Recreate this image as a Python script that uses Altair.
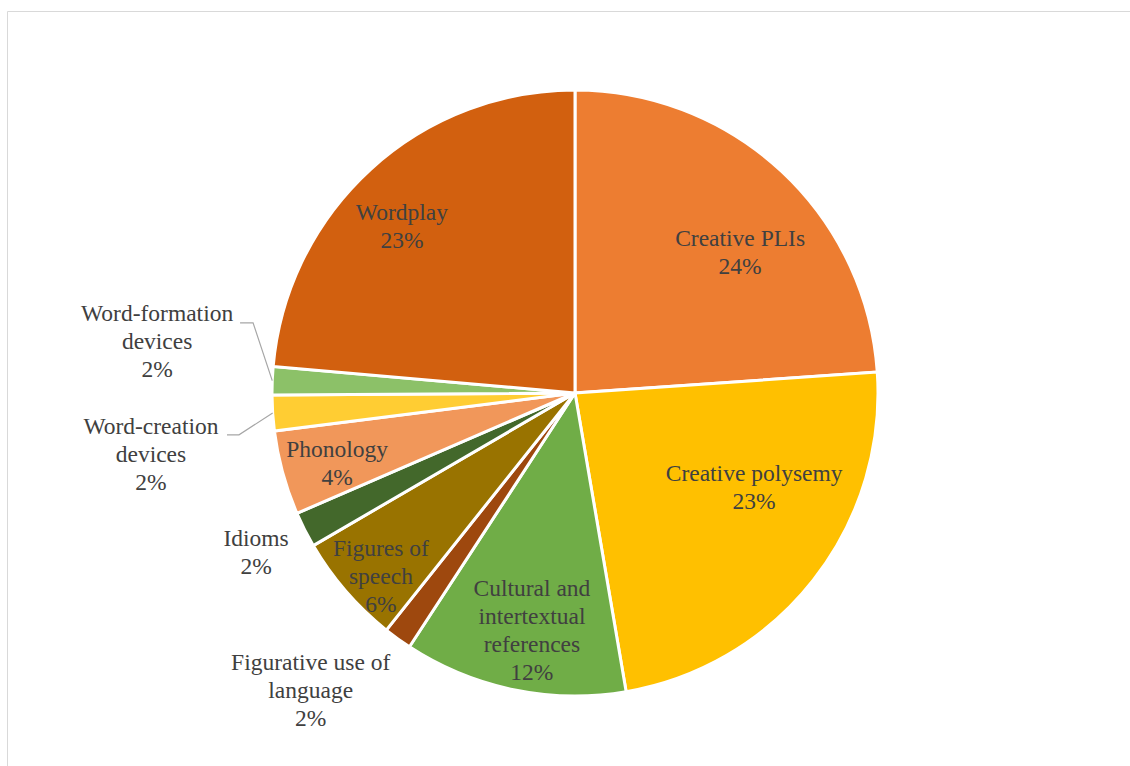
import math
import altair as alt
import pandas as pd

# ---- data ----
categories = [
    "Creative PLIs", "Creative polysemy", "Cultural and intertextual references",
    "Figurative use of language", "Figures of speech", "Idioms", "Phonology",
    "Word-creation devices", "Word-formation devices", "Wordplay",
]
values = [23.9, 23.4, 11.9, 1.5, 5.9, 1.9, 4.5, 1.9, 1.5, 23.6]
pct_labels = ["24%", "23%", "12%", "2%", "6%", "2%", "4%", "2%", "2%", "23%"]
label_lines = [
    ["Creative PLIs"], ["Creative polysemy"],
    ["Cultural and", "intertextual", "references"],
    ["Figurative use of", "language"], ["Figures of", "speech"], ["Idioms"], ["Phonology"],
    ["Word-creation", "devices"], ["Word-formation", "devices"], ["Wordplay"],
]
colors = ["#ED7D31", "#FFC000", "#70AD47", "#9E480E", "#997300",
          "#43682B", "#F1975A", "#FFCD33", "#8CC168", "#D2600F"]

# ---- layout ----
W, H = 1110, 746
PAD_L, PAD_T = 20, 20
R = 303
LINE_H = 28
FONT = "Liberation Serif"
# polar position of each label's first line (radius px, shift from slice middle in degrees)
label_radius = [225.7, 196.5, 200.7, 377.6, 248.9, 350.8, 244.7, 425.4, 425.2, 249.7]
label_shift_deg = [4.0, -13.9, 0.7, 8.6, 2.1, 2.2, 1.8, -0.8, 8.3, -1.4]
# leader lines: category -> (elbow radius, elbow angle deg, horizontal length)
leaders = {
    "Word-formation devices": (329.5, 282.3, 13),
    "Word-creation devices": (338.6, 262.9, 12),
}

total = sum(values)
rows = []
text_rows = []
cum = 0.0
for i, (c, v) in enumerate(zip(categories, values)):
    mid = cum + v / 2
    rows.append({"idx": i, "name": c, "value": v, "mid_deg": mid / total * 360})
    for k, line in enumerate(label_lines[i] + [pct_labels[i]]):
        text_rows.append({
            "k": k, "line": line,
            "tmid": mid + label_shift_deg[i] / 360 * total,
            "lr": label_radius[i],
        })
    cum += v
df = pd.DataFrame(rows)
tdf = pd.DataFrame(text_rows)

cx, cy = W / 2, H / 2


def polar(r, deg):
    a = math.radians(deg)
    return cx + r * math.sin(a), cy - r * math.cos(a)


lrows = []
for name, (er, ea, hl) in leaders.items():
    mid_deg = df.loc[df["name"] == name, "mid_deg"].iloc[0]
    ex, ey = polar(R, mid_deg)
    bx, by = polar(er, ea)
    lrows += [
        {"grp": name, "ord": 0, "x": bx - hl, "y": by},
        {"grp": name, "ord": 1, "x": bx, "y": by},
        {"grp": name, "ord": 2, "x": ex, "y": ey},
    ]
ldf = pd.DataFrame(lrows)

border = alt.Chart(pd.DataFrame({"a": [0]})).mark_rect(
    fillOpacity=0, stroke="#D9D9D9", strokeWidth=1
).encode(
    x=alt.value(-12.5), y=alt.value(-8.5), x2=alt.value(W + 40), y2=alt.value(H + 40)
)

arcs = alt.Chart(df).mark_arc(outerRadius=R, stroke="white", strokeWidth=3).encode(
    theta=alt.Theta("value:Q", stack=True, scale=alt.Scale(domain=[0, total])),
    color=alt.Color("name:N", scale=alt.Scale(domain=categories, range=colors), legend=None),
    order=alt.Order("idx:Q"),
)

leader_lines = alt.Chart(ldf).mark_line(color="#A6A6A6", strokeWidth=1.2).encode(
    x=alt.X("x:Q", scale=None, axis=None),
    y=alt.Y("y:Q", scale=None, axis=None),
    detail="grp:N",
    order="ord:Q",
)

text_layers = []
for k in sorted(tdf["k"].unique()):
    sub = tdf[tdf["k"] == k].reset_index(drop=True)
    text_layers.append(
        alt.Chart(sub).mark_text(
            font=FONT, fontSize=23.5, color="#404040",
            align="center", baseline="middle", dy=int(k) * LINE_H,
        ).encode(
            theta=alt.Theta("tmid:Q", stack=False, scale=alt.Scale(domain=[0, total])),
            radius=alt.Radius("lr:Q", scale=None),
            text="line:N",
        )
    )

chart = alt.layer(border, arcs, leader_lines, *text_layers).properties(
    width=W, height=H,
    padding={"left": PAD_L, "top": PAD_T, "right": 0, "bottom": 0},
    autosize=alt.AutoSizeParams(type="none"),
    background="white",
).configure_view(stroke=None).configure_text(font=FONT)

chart.save("out.html", embed_options={"renderer": "svg", "actions": False})
